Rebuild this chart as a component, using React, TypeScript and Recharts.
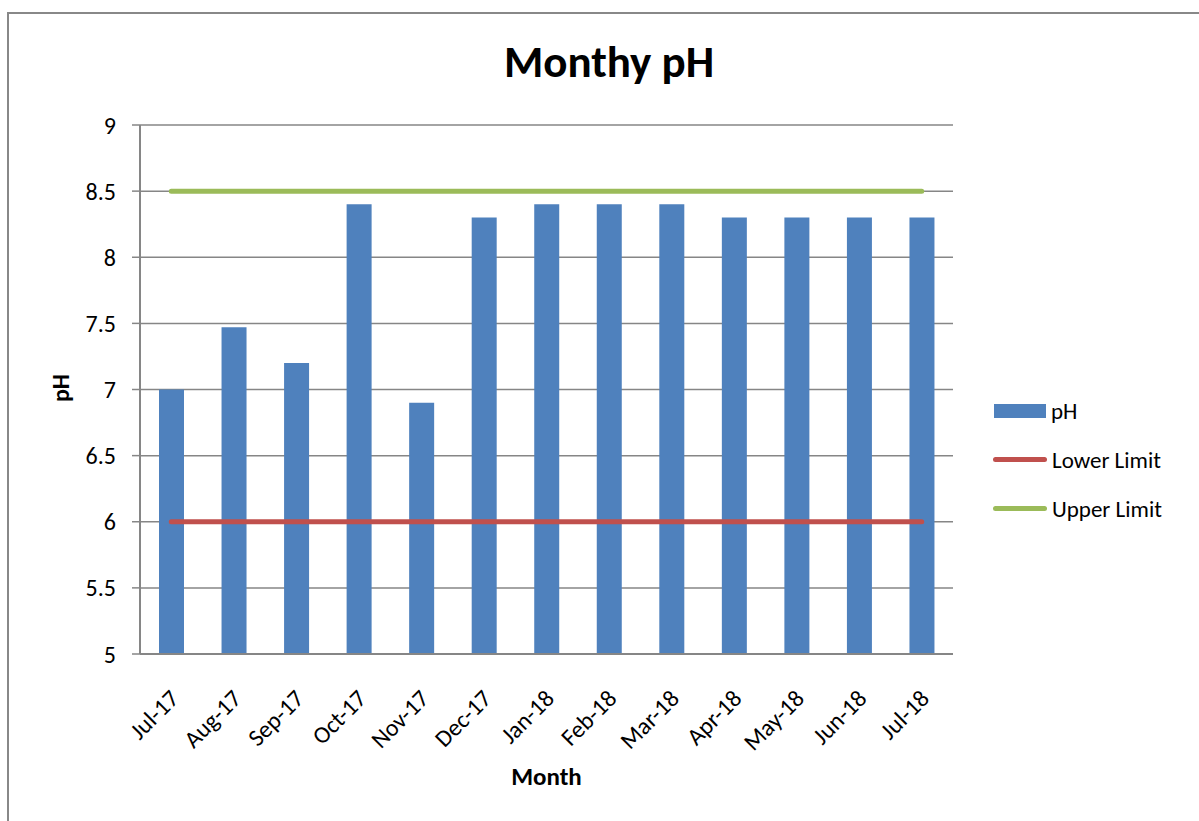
import React from "react"
import {
    ComposedChart,
    Bar,
    Line,
    XAxis,
    YAxis,
    CartesianGrid,
    Legend,
    Label
} from "recharts"

const months = ["Jul-17", "Aug-17", "Sep-17", "Oct-17", "Nov-17", "Dec-17", "Jan-18", "Feb-18", "Mar-18", "Apr-18", "May-18", "Jun-18", "Jul-18"]
const phValues = [7.0, 7.47, 7.2, 8.4, 6.9, 8.3, 8.4, 8.4, 8.4, 8.3, 8.3, 8.3, 8.3]
const lowerLimit = [6, 6, 6, 6, 6, 6, 6, 6, 6, 6, 6, 6, 6]
const upperLimit = [8.5, 8.5, 8.5, 8.5, 8.5, 8.5, 8.5, 8.5, 8.5, 8.5, 8.5, 8.5, 8.5]
const yTicks = [5, 5.5, 6, 6.5, 7, 7.5, 8, 8.5, 9]

const FONT = "Carlito, Calibri, Lato, 'Open Sans', sans-serif"
const AXIS_GRAY = "#868686"
const BAR_BLUE = "#4F81BD"
const LOWER_RED = "#C0504D"
const UPPER_GREEN = "#9BBB59"

const chartData = months.map((m, i) => ({
    month: m,
    ph: phValues[i],
    lower: lowerLimit[i],
    upper: upperLimit[i]
}))

// rotated month labels, end of text sits just right of the category centre
function MonthTick(props: any) {
    const { x, y, payload } = props
    const tx = x + 9
    const ty = y + 38
    return (
        <text
            x={tx}
            y={ty}
            textAnchor="end"
            transform={`rotate(-45, ${tx}, ${ty})`}
            fontSize={24}
            fontFamily={FONT}
            fill="#000"
        >
            {payload.value}
        </text>
    )
}

function LegendBox() {
    const items = [
        { name: "pH", kind: "bar", color: BAR_BLUE },
        { name: "Lower Limit", kind: "line", color: LOWER_RED },
        { name: "Upper Limit", kind: "line", color: UPPER_GREEN }
    ]
    return (
        <div style={{ fontFamily: FONT, fontSize: 23, color: "#000" }}>
            {items.map((it) => (
                <div key={it.name} style={{ display: "flex", alignItems: "center", height: 49 }}>
                    {it.kind === "bar" ? (
                        <div style={{ width: 52, height: 14, background: it.color, marginLeft: 1 }} />
                    ) : (
                        <div style={{ width: 54, height: 5, borderRadius: 3, background: it.color }} />
                    )}
                    <span style={{ marginLeft: 5 }}>{it.name}</span>
                </div>
            ))}
        </div>
    )
}

export default function App() {
    return (
        <div style={{ position: "absolute", left: 0, top: 0, width: 1199, height: 821, background: "#fff" }}>
            {/* chart frame, cut off on the right and bottom */}
            <div
                style={{
                    position: "absolute",
                    left: 7,
                    top: 12,
                    width: 1192,
                    height: 809,
                    borderTop: "2px solid #888",
                    borderLeft: "2px solid #888"
                }}
            />
            <div
                style={{
                    position: "absolute",
                    left: 409,
                    width: 400,
                    top: 34,
                    textAlign: "center",
                    fontFamily: FONT,
                    fontWeight: "bold",
                    fontSize: 45,
                    color: "#000"
                }}
            >
                Monthy pH
            </div>
            <div style={{ position: "absolute", left: 0, top: 0 }}>
                <ComposedChart
                    width={1199}
                    height={821}
                    data={chartData}
                    margin={{ top: 125, right: 246, left: 80, bottom: 107 }}
                >
                    <CartesianGrid vertical={false} stroke={AXIS_GRAY} strokeWidth={1.5} />
                    <XAxis
                        dataKey="month"
                        height={60}
                        tick={<MonthTick />}
                        tickLine={false}
                        axisLine={{ stroke: AXIS_GRAY, strokeWidth: 2 }}
                        interval={0}
                    >
                        <Label
                            content={({ viewBox }: any) => (
                                <text
                                    x={viewBox.x + viewBox.width / 2}
                                    y={785}
                                    textAnchor="middle"
                                    fontFamily={FONT}
                                    fontWeight="bold"
                                    fontSize={25}
                                    fill="#000"
                                >
                                    Month
                                </text>
                            )}
                        />
                    </XAxis>
                    <YAxis
                        width={60}
                        domain={[5, 9]}
                        ticks={yTicks}
                        interval={0}
                        tickSize={8}
                        tickMargin={16}
                        tick={{ fontSize: 24, fontFamily: FONT, fill: "#000" }}
                        tickLine={{ stroke: AXIS_GRAY, strokeWidth: 1.5 }}
                        axisLine={{ stroke: AXIS_GRAY, strokeWidth: 2 }}
                    >
                        <Label
                            content={() => (
                                <text
                                    x={0}
                                    y={0}
                                    transform="translate(69, 388) rotate(-90)"
                                    textAnchor="middle"
                                    fontFamily={FONT}
                                    fontWeight="bold"
                                    fontSize={24}
                                    fill="#000"
                                >
                                    pH
                                </text>
                            )}
                        />
                    </YAxis>
                    <Legend
                        layout="horizontal"
                        align="center"
                        verticalAlign="middle"
                        content={<LegendBox />}
                        wrapperStyle={{ position: "absolute", left: 993, top: 386, width: 200 }}
                    />
                    <Bar dataKey="ph" name="pH" fill={BAR_BLUE} barSize={25} isAnimationActive={false} />
                    <Line
                        dataKey="lower"
                        name="Lower Limit"
                        stroke={LOWER_RED}
                        strokeWidth={5}
                        strokeLinecap="round"
                        dot={false}
                        activeDot={false}
                        isAnimationActive={false}
                    />
                    <Line
                        dataKey="upper"
                        name="Upper Limit"
                        stroke={UPPER_GREEN}
                        strokeWidth={5}
                        strokeLinecap="round"
                        dot={false}
                        activeDot={false}
                        isAnimationActive={false}
                    />
                </ComposedChart>
            </div>
        </div>
    )
}
